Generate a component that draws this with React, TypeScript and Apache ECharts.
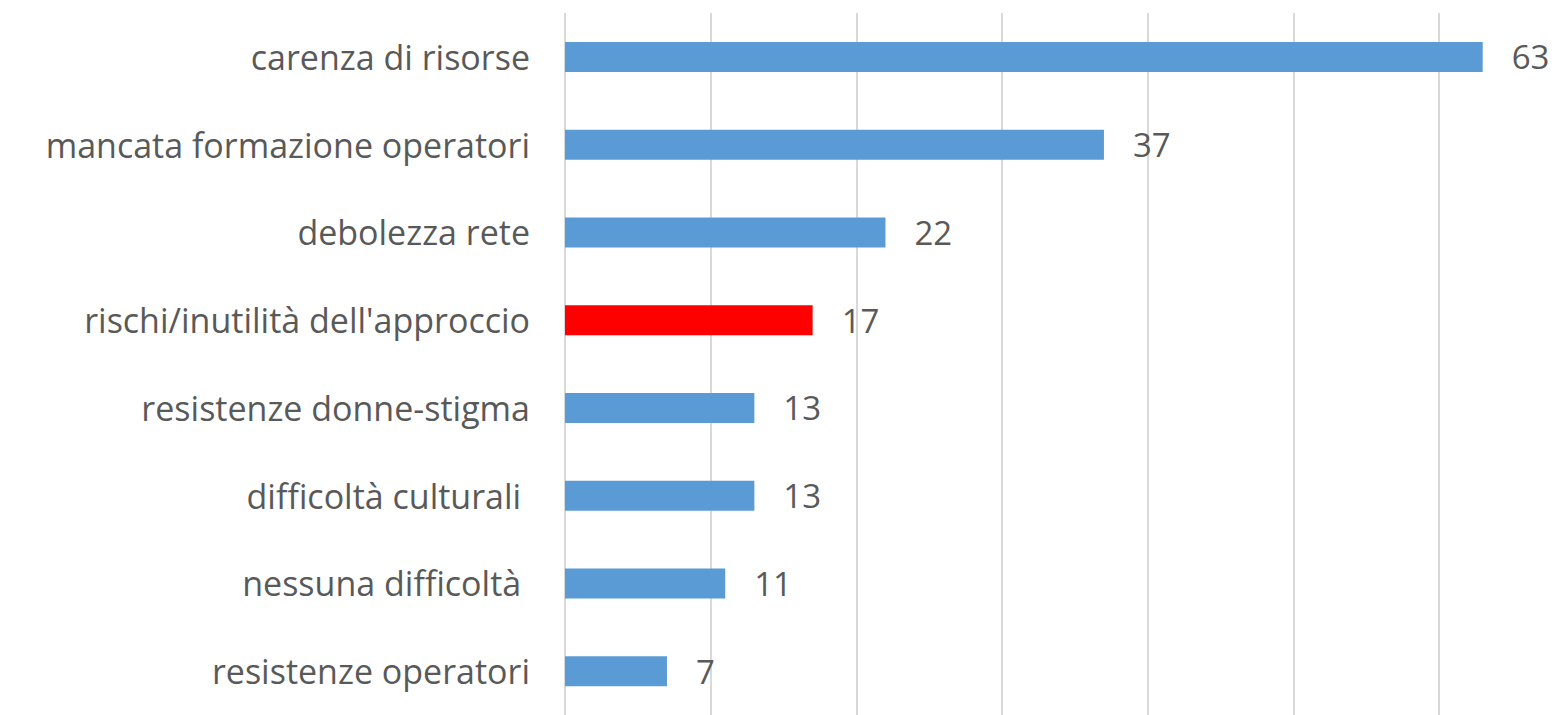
import React, { useEffect, useRef } from "react";
import * as echarts from "echarts";

const categories = [
  "carenza di risorse",
  "mancata formazione operatori",
  "debolezza rete",
  "rischi/inutilità dell'approccio",
  "resistenze donne-stigma",
  "difficoltà culturali ",
  "nessuna difficoltà ",
  "resistenze operatori",
];
const values = [63, 37, 22, 17, 13, 13, 11, 7];
const highlighted = "rischi/inutilità dell'approccio";

export default function App() {
  const ref = useRef<HTMLDivElement>(null);
  useEffect(() => {
    document.body.style.margin = "0";
    if (!ref.current) return;
    const chart = echarts.init(ref.current, null, { renderer: "svg" });
    const cats = [...categories].reverse();
    const vals = [...values].reverse();
    chart.setOption({
      animation: false,
      grid: { left: 565, right: 0, top: 13, bottom: -4, containLabel: false },
      xAxis: {
        type: "value",
        min: 0,
        max: 68.1,
        interval: 10,
        axisLabel: { show: false },
        axisLine: { show: false },
        axisTick: { show: false },
        splitLine: { show: true, showMaxLine: false, lineStyle: { color: "#d9d9d9", width: 2 } },
      },
      yAxis: {
        type: "category",
        data: cats,
        axisLine: { show: false },
        axisTick: { show: false },
        axisLabel: {
          color: "#595959",
          fontSize: 34,
          fontFamily: "Open Sans",
          margin: 35,
        },
      },
      series: [
        {
          type: "bar",
          barWidth: 30,
          data: vals.map((v, i) => ({
            value: v,
            itemStyle: { color: cats[i] === highlighted ? "#ff0000" : "#5b9bd5" },
          })),
          label: {
            show: true,
            position: "right",
            distance: 29,
            color: "#595959",
            fontSize: 33,
            fontFamily: "Open Sans",
          },
        },
      ],
    });
    return () => chart.dispose();
  }, []);
  return <div ref={ref} style={{ width: 1557, height: 715 }} />;
}
